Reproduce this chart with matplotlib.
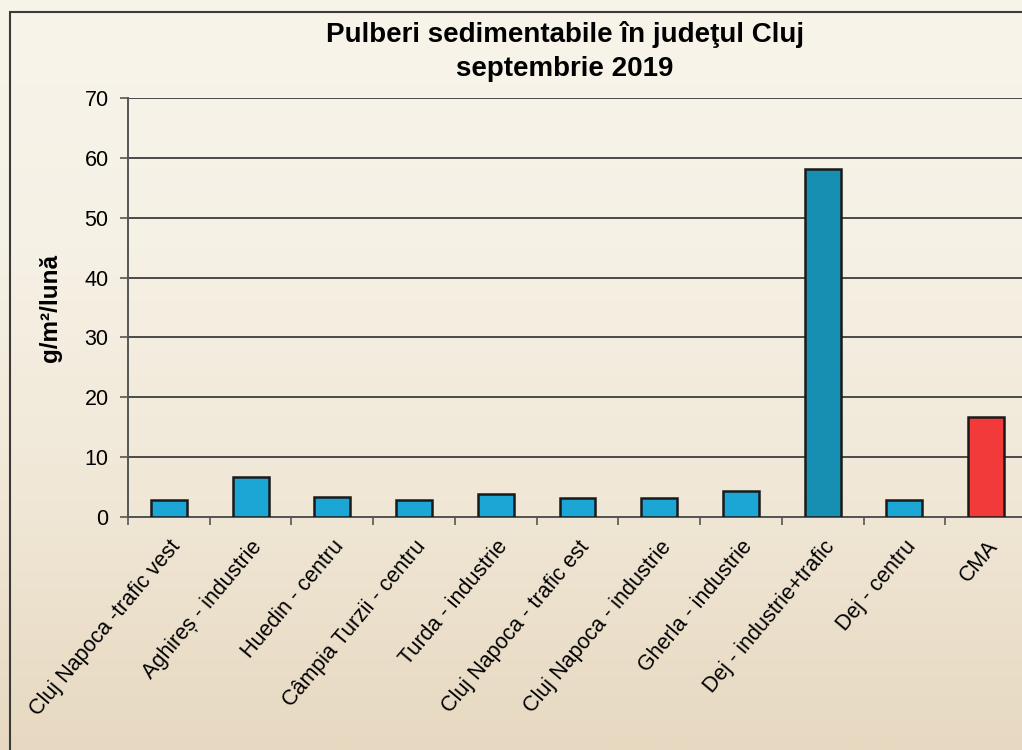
import numpy as np
import matplotlib.pyplot as plt
from matplotlib.patches import Rectangle
from matplotlib.colors import LinearSegmentedColormap

plt.rcParams["font.family"] = ["Liberation Sans", "DejaVu Sans"]

stations = [
    "Cluj Napoca -trafic vest",
    "Aghireș - industrie",
    "Huedin - centru",
    "Câmpia Turzii - centru",
    "Turda - industrie",
    "Cluj Napoca - trafic est",
    "Cluj Napoca - industrie",
    "Gherla - industrie",
    "Dej - industrie+trafic",
    "Dej - centru",
    "CMA",
]
values = [2.9, 6.7, 3.3, 2.8, 3.8, 3.1, 3.2, 4.3, 58.1, 2.8, 16.7]
yticks = [0, 10, 20, 30, 40, 50, 60, 70]

bar_colors = ["#1ba6d6"] * 8 + ["#168fb2", "#1ba6d6", "#f23a3a"]

fig = plt.figure(figsize=(10.22, 7.5), dpi=100)

# scanned paper background
bg = fig.add_axes([0, 0, 1, 1], zorder=-10)
grad = np.linspace(0, 1, 256).reshape(-1, 1)
paper = LinearSegmentedColormap.from_list(
    "paper", ["#f8f4ea", "#f6f1e5", "#f0e7d6", "#e7d9c1"]
)
bg.imshow(grad, aspect="auto", cmap=paper, extent=[0, 1, 0, 1])
bg.set_axis_off()
fig.patches.append(
    Rectangle((10 / 1022, -0.01), 1.0, 1 - 12 / 750 + 0.01,
              transform=fig.transFigure, fill=False,
              edgecolor="#3a3a3a", linewidth=1.5)
)

ax = fig.add_axes([128 / 1022, 1 - 517 / 750, 899 / 1022, 419 / 750])
ax.set_facecolor("none")

x = np.arange(len(stations))
ax.bar(x, values, width=0.44, color=bar_colors, edgecolor="#1a1a1a",
       linewidth=1.8, zorder=3)

ax.set_xlim(-0.5, len(stations) - 0.5)
ax.set_ylim(0, 70)
ax.set_yticks(yticks)
ax.yaxis.grid(True, color="#4a4a4a", linewidth=1.4)
ax.set_axisbelow(True)

ax.set_xticks(np.arange(len(stations) + 1) - 0.5)
ax.set_xticklabels([])
ax.set_xticks(x, minor=True)
ax.set_xticklabels(stations, minor=True, rotation=50, ha="right",
                   rotation_mode="anchor", fontsize=15.5)
ax.tick_params(axis="x", which="minor", length=0, pad=14)
ax.tick_params(axis="x", which="major", length=6, width=1.2, color="#555555")
ax.tick_params(axis="y", length=6, width=1.2, color="#555555",
               labelsize=15.5, pad=8)

for s in ["top", "right"]:
    ax.spines[s].set_visible(False)
for s in ["left", "bottom"]:
    ax.spines[s].set_color("#555555")
    ax.spines[s].set_linewidth(1.4)

ax.set_ylabel("g/m²/lună", fontsize=17.5, fontweight="bold", labelpad=16)

fig.text(565 / 1022, 1 - 35 / 750, "Pulberi sedimentabile în judeţul Cluj",
         ha="center", va="center", fontsize=20, fontweight="bold")
fig.text(565 / 1022, 1 - 69 / 750, "septembrie 2019",
         ha="center", va="center", fontsize=20, fontweight="bold")

fig.savefig("out.png", dpi=100)
